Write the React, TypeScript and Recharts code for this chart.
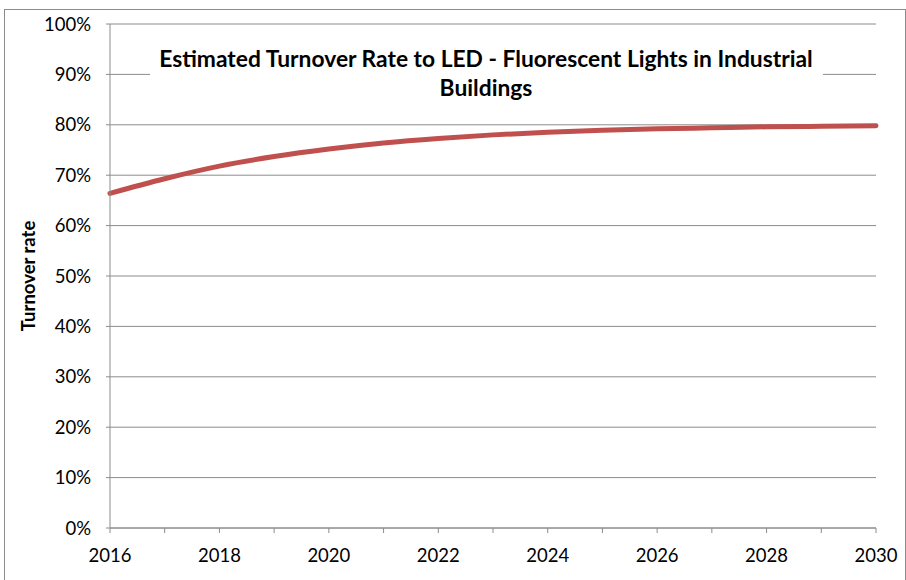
import { LineChart, Line, XAxis, YAxis, CartesianGrid } from 'recharts';

// years on the x axis (ticks every year, labels every second year)
const years = [2016, 2017, 2018, 2019, 2020, 2021, 2022, 2023, 2024, 2025, 2026, 2027, 2028, 2029, 2030];
// estimated turnover rate
const turnoverRate = [0.664, 0.693, 0.718, 0.737, 0.752, 0.764, 0.773, 0.78, 0.785, 0.789, 0.792, 0.794, 0.796, 0.797, 0.798];
const yTicks = [0, 0.1, 0.2, 0.3, 0.4, 0.5, 0.6, 0.7, 0.8, 0.9, 1];

const titleLines = ['Estimated Turnover Rate to LED - Fluorescent Lights in Industrial', 'Buildings'];

const FONT = 'Lato, "Open Sans", sans-serif';
const GRID = '#8c8c8c';

const data = years.map((year, i) => ({ year, rate: turnoverRate[i] }));

export default function App() {
  return (
    <div style={{ position: 'absolute', left: 0, top: 0, width: 906, height: 580, background: '#fff', overflow: 'hidden' }}>
      <LineChart width={906} height={580} data={data} margin={{ top: 24, right: 30, bottom: 0, left: 0 }}>
        <CartesianGrid vertical={false} stroke={GRID} strokeWidth={1} />
        <XAxis
          dataKey="year"
          type="number"
          domain={[2016, 2030]}
          ticks={years}
          interval={0}
          height={52}
          tickSize={5}
          tickMargin={16}
          stroke={GRID}
          tick={{ fill: '#000', fontSize: 18.5, fontFamily: FONT }}
          tickFormatter={(v) => (v % 2 === 0 ? String(v) : '')}
        />
        <YAxis
          domain={[0, 1]}
          ticks={yTicks}
          interval={0}
          width={110}
          tickSize={4}
          tickMargin={15}
          stroke={GRID}
          tick={{ fill: '#000', fontSize: 18.5, fontFamily: FONT }}
          tickFormatter={(v) => `${Math.round(v * 100)}%`}
        />
        <Line
          type="monotone"
          dataKey="rate"
          stroke="#C0504D"
          strokeWidth={5}
          strokeLinecap="round"
          dot={false}
          activeDot={false}
          isAnimationActive={false}
        />
      </LineChart>
      <svg width={906} height={580} style={{ position: 'absolute', left: 0, top: 0, pointerEvents: 'none' }}>
        <rect x={4.5} y={9.5} width={901} height={600} fill="none" stroke={GRID} strokeWidth={1} />
        <rect x={150} y={40} width={673} height={68} fill="#fff" />
        <text x={486} y={67} textAnchor="middle" fontFamily={FONT} fontWeight="bold" fontSize={22.8} fill="#000">
          {titleLines[0]}
        </text>
        <text x={486} y={96} textAnchor="middle" fontFamily={FONT} fontWeight="bold" fontSize={22.8} fill="#000">
          {titleLines[1]}
        </text>
        <text
          x={35}
          y={276}
          transform="rotate(-90 35 276)"
          textAnchor="middle"
          fontFamily={FONT}
          fontWeight="bold"
          fontSize={18.5}
          fill="#000"
        >
          Turnover rate
        </text>
      </svg>
    </div>
  );
}
